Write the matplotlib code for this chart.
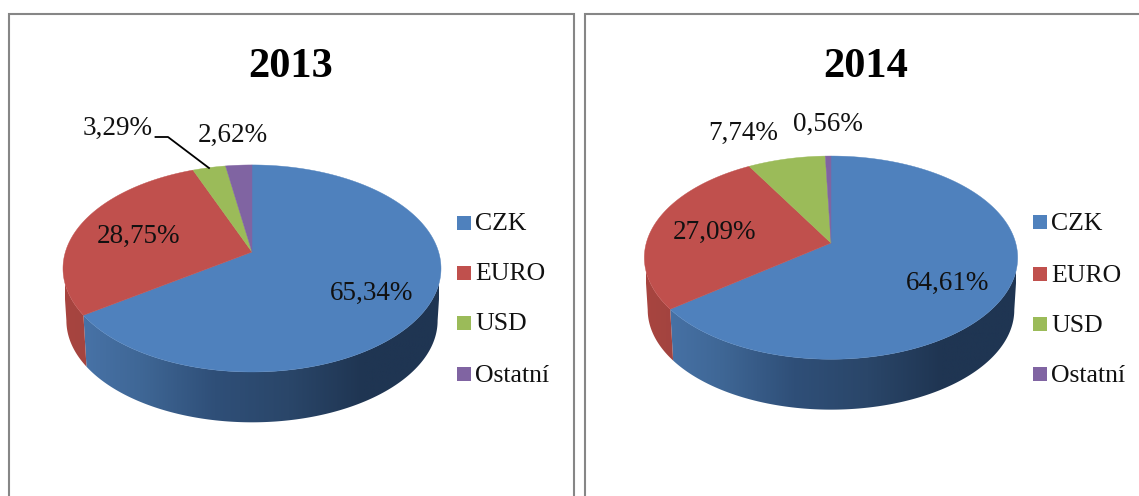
import matplotlib
matplotlib.use("Agg")
import matplotlib.pyplot as plt
import numpy as np
from matplotlib.colors import LinearSegmentedColormap
from matplotlib.patches import Polygon, Rectangle

categories = ["CZK", "EURO", "USD", "Ostatní"]
values_2013 = [65.34, 28.75, 3.29, 2.62]
values_2014 = [64.61, 27.09, 7.74, 0.56]
labels_2013 = ["65,34%", "28,75%", "3,29%", "2,62%"]
labels_2014 = ["64,61%", "27,09%", "7,74%", "0,56%"]

slice_colors = ["#4f81bd", "#c0504d", "#9bbb59", "#8064a2"]
blue_side = LinearSegmentedColormap.from_list(
    "blue_side", ["#4a76ac", "#3f6796", "#2f4f78", "#2a4669", "#1f3552", "#1f3552"]
)
red_side = LinearSegmentedColormap.from_list("red_side", ["#a8453f", "#a04340"])

SIDE_DROP = 52.5

plt.rcParams["font.family"] = ["Liberation Serif", "DejaVu Serif"]

fig = plt.figure(figsize=(11.39, 4.96), dpi=100)
ax = fig.add_axes([0, 0, 1, 1])


def rim(deg, cx, cy, a, b, k, shrink=1.0, drop=0.0):
    """Perspective view of the pie edge, deg is clockwise from 12 o'clock"""
    t = np.radians(deg)
    u, v = np.sin(t), -np.cos(t)
    d = 1 - k * v
    return cx + shrink * a * u / d, cy + shrink * b * v / d + drop


def draw_side(cmap, start, end, geom, x_range):
    deg = np.linspace(start, end, 200)
    x0, y0 = rim(deg, *geom)
    x1, y1 = rim(deg, *geom, shrink=0.982, drop=SIDE_DROP)
    pts = np.column_stack([np.r_[x0, x1[::-1]], np.r_[y0, y1[::-1]]])
    clip = Polygon(pts, transform=ax.transData, fc="none", ec="none")
    ax.add_patch(clip)
    img = ax.imshow(
        np.linspace(0, 1, 256).reshape(1, -1),
        cmap=cmap,
        extent=(x_range[0], x_range[1], pts[:, 1].max() + 1, pts[:, 1].min() - 1),
        aspect="auto",
        zorder=1,
    )
    img.set_clip_path(clip)


def draw_pie(values, cx, cy, a, b, k):
    geom = (cx, cy, a, b, k)
    edges = np.r_[0, np.cumsum(values)] / 100 * 360

    # the silhouette of the wall runs between the widest points of the rim
    widest = np.degrees(np.arccos(-k))
    draw_side(blue_side, widest, edges[1], geom, (cx - a, cx + a))
    draw_side(red_side, edges[1], 360 - widest, geom, (cx - a, cx - a + 40))

    for i, color in enumerate(slice_colors):
        deg = np.linspace(edges[i], edges[i + 1], 200)
        x, y = rim(deg, *geom)
        ax.fill(np.r_[cx, x], np.r_[cy, y], color=color, lw=0.3, zorder=2)


def draw_frame(x0, x1):
    ax.add_patch(
        Rectangle((x0, 13.5), x1 - x0, 520, fc="white", ec="#868686", lw=1.5, zorder=0)
    )


def draw_legend(x_box, x_text, rows):
    for name, color, y in zip(categories, slice_colors, rows):
        ax.add_patch(Rectangle((x_box, y - 7), 13.5, 14, fc=color, ec="none", zorder=3))
        ax.text(x_text, y + 1.5, name, fontsize=18.5, va="center", ha="left", color="#111111")


draw_frame(9, 574)
draw_frame(585, 1160)

draw_pie(values_2013, 252, 252, 186.6, 100.9, 0.159)
draw_pie(values_2014, 831, 243, 184.7, 99.5, 0.144)

ax.text(291, 67, "2013", fontsize=30.5, fontweight="bold", ha="center", va="center")
ax.text(866, 67, "2014", fontsize=30.5, fontweight="bold", ha="center", va="center")

label_pos_2013 = [(372, 293), (139, 236), (118, 128), (233, 135)]
label_pos_2014 = [(948, 283), (715, 232), (743.5, 133), (827.5, 124)]
for text, (x, y) in zip(labels_2013 + labels_2014, label_pos_2013 + label_pos_2014):
    ax.text(x, y, text, fontsize=19.5, ha="center", va="center", color="#111111", zorder=4)

# leader line of the small USD slice in 2013
ax.plot([155.5, 168, 209], [137, 137, 168], color="black", lw=1.3, zorder=4)

draw_legend(457, 475.5, [223, 273, 323, 374])
draw_legend(1033, 1051, [222, 274, 324, 374])

ax.set_xlim(0, 1139)
ax.set_ylim(496, 0)
ax.axis("off")

fig.savefig("out.png", dpi=100)
